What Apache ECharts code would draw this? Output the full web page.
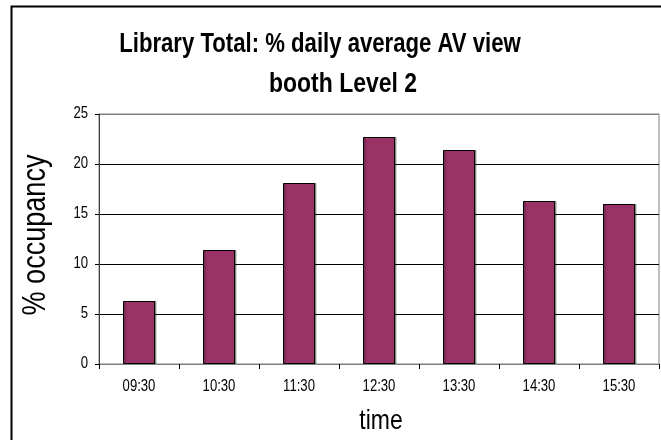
<!DOCTYPE html>
<html>
<head>
<meta charset="utf-8">
<script src="https://cdn.jsdelivr.net/npm/echarts@6/dist/echarts.min.js"></script>
<style>
  html, body { margin: 0; padding: 0; background: #fff; }
  #chart { width: 661px; height: 440px; }
</style>
</head>
<body>
<div id="chart"></div>
<script>
// Hourly time slots and the average occupancy (%) of the AV view booth
const timeSlots = ['09:30', '10:30', '11:30', '12:30', '13:30', '14:30', '15:30'];
const occupancy = [6.3, 11.4, 18.1, 22.7, 21.4, 16.3, 16.0];
const yTickValues = [0, 5, 10, 15, 20, 25];

const titleLines = ['Library Total: % daily average AV view', 'booth Level 2'];
const xAxisTitle = 'time';
const yAxisTitle = '% occupancy';

const chart = echarts.init(document.getElementById('chart'), null, { renderer: 'canvas' });

const sans = '"Liberation Sans", Arial, sans-serif';
// Arial Narrow look: regular sans squeezed horizontally
const NARROW = 0.82;

function narrowText(text, x, y, size, opts) {
  opts = opts || {};
  return {
    type: 'text',
    x: x,
    y: y,
    rotation: opts.rotation || 0,
    scaleX: NARROW,
    silent: true,
    z: 100,
    style: {
      text: text,
      x: 0,
      y: 0,
      font: (opts.bold ? 'bold ' : '') + size + 'px ' + sans,
      fill: '#000',
      textAlign: opts.align || 'center',
      textVerticalAlign: opts.vAlign || 'middle'
    }
  };
}

chart.setOption({
  animation: false,
  backgroundColor: '#ffffff',
  grid: {
    left: 99,
    right: 2,
    top: 114,
    bottom: 76,
    show: true,
    borderColor: '#808080',
    borderWidth: 1,
    backgroundColor: 'transparent'
  },
  xAxis: {
    type: 'category',
    data: timeSlots,
    axisLine: { show: true, lineStyle: { color: '#808080', width: 1 } },
    axisTick: { show: true, length: 5, lineStyle: { color: '#000' } },
    axisLabel: { show: false },
    splitLine: { show: false }
  },
  yAxis: {
    type: 'value',
    min: yTickValues[0],
    max: yTickValues[yTickValues.length - 1],
    interval: yTickValues[1] - yTickValues[0],
    axisLine: { show: true, lineStyle: { color: '#404040', width: 1 } },
    axisTick: { show: true, length: 4, lineStyle: { color: '#000' } },
    axisLabel: { show: false },
    splitLine: {
      show: true,
      lineStyle: { color: ['#000', '#000', '#000', '#000', '#000', '#808080'], width: 1 }
    }
  },
  series: [
    {
      type: 'bar',
      data: occupancy,
      barWidth: '40%',
      itemStyle: {
        color: '#993366',
        borderColor: '#000',
        borderWidth: 1,
        shadowColor: 'rgba(0,0,0,0.35)',
        shadowOffsetX: 1.5,
        shadowOffsetY: 0,
        shadowBlur: 0
      }
    }
  ]
});

// Texts in a narrow face, placed from the axis scales
const texts = [];
texts.push(narrowText(titleLines[0], 320, 58, 27, { bold: true, vAlign: 'bottom' }));
texts.push(narrowText(titleLines[1], 343, 98, 28, { bold: true, vAlign: 'bottom' }));

timeSlots.forEach(function (t) {
  const px = chart.convertToPixel({ xAxisIndex: 0 }, t);
  texts.push(narrowText(t, px, 387, 16));
});
yTickValues.forEach(function (v) {
  const py = chart.convertToPixel({ yAxisIndex: 0 }, v);
  texts.push(narrowText(String(v), 88, py, 16, { align: 'right' }));
});

texts.push(narrowText(xAxisTitle, 381, 421, 28));
texts.push(narrowText(yAxisTitle, 36, 235, 33, { rotation: Math.PI / 2 }));

texts.push({
  type: 'rect',
  shape: { x: 11.5, y: 6.5, width: 700, height: 500 },
  style: { fill: 'none', stroke: '#000', lineWidth: 2 },
  silent: true
});

chart.setOption({ graphic: texts });
</script>
</body>
</html>
